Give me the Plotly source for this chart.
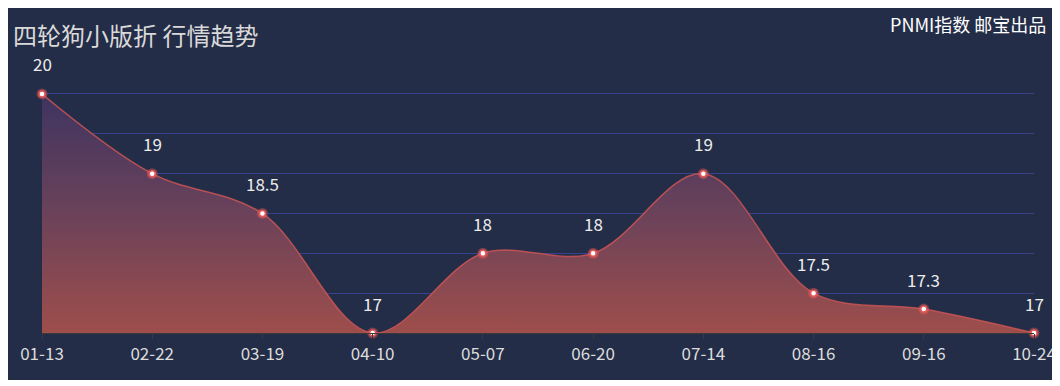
import plotly.graph_objects as go

# ---- data ----
dates = ["01-13", "02-22", "03-19", "04-10", "05-07", "06-20", "07-14", "08-16", "09-16", "10-24"]
prices = [20, 19, 18.5, 17, 18, 18, 19, 17.5, 17.3, 17]
price_labels = ["20", "19", "18.5", "17", "18", "18", "19", "17.5", "17.3", "17"]
grid_values = [17, 17.5, 18, 18.5, 19, 19.5, 20]
title_text = "四轮狗小版折 行情趋势"
brand_text = "PNMI指数 邮宝出品"

OFF = 8  # page body margin
W, H = 1060 - OFF, 386 - OFF
Y_TOP = 20.1
L, R, T, B = 42 - OFF, 26, 86 - OFF, 53
pw, ph = W - L - R, H - T - B

def px(x):  # page pixel -> paper
    return (x - OFF - L) / pw

def py(y):
    return (H - B - (y - OFF)) / ph

FONT = "Noto Sans CJK SC"
BG = "#232d47"

fig = go.Figure()

fig.add_trace(go.Scatter(
    x=dates, y=prices, mode="lines",
    line=dict(color="rgba(205,85,85,0.85)", width=1.5, shape="spline", smoothing=1.0),
    fill="tozeroy",
    fillgradient=dict(type="vertical", start=17, stop=20,
                      colorscale=[[0, "#9e4e4b"], [0.5, "#6b425a"], [1, "#3e3460"]]),
    hoverinfo="skip", showlegend=False,
))
fig.add_trace(go.Scatter(
    x=dates, y=prices, mode="markers",
    marker=dict(size=11, color="rgba(255,90,90,0.4)", line=dict(width=0)),
    cliponaxis=False, hoverinfo="skip", showlegend=False,
))
fig.add_trace(go.Scatter(
    x=dates, y=prices, mode="markers",
    marker=dict(size=6, color="#ffffff", line=dict(width=1.5, color="#e25a5a")),
    cliponaxis=False, showlegend=False,
))

for d, v, t in zip(dates, prices, price_labels):
    fig.add_annotation(x=d, y=v, text=t, showarrow=False, yshift=30,
                       font=dict(family=FONT, size=17, color="#ececec"))

fig.add_annotation(xref="paper", yref="paper", x=px(11), y=py(35), text=title_text,
                   showarrow=False, xanchor="left", yanchor="middle",
                   font=dict(family=FONT, size=24, color="#d9d9d9"))
fig.add_annotation(xref="paper", yref="paper", x=px(1048), y=py(24), text=brand_text,
                   showarrow=False, xanchor="right", yanchor="middle",
                   font=dict(family=FONT, size=18, color="#ffffff"))

fig.add_shape(type="rect", xref="paper", yref="paper", layer="below",
              x0=px(0), x1=px(1053), y0=py(380), y1=py(0),
              fillcolor=BG, line=dict(width=0))

fig.update_layout(
    width=W, height=H,
    margin=dict(l=L, r=R, t=T, b=B, autoexpand=False),
    paper_bgcolor="#ffffff", plot_bgcolor=BG,
    xaxis=dict(type="category", range=[0, len(dates) - 1], showgrid=False,
               automargin=False,
               showline=True, linecolor="#3a3a3a", linewidth=1,
               ticks="outside", ticklen=5, tickcolor="#3a3a3a",
               tickfont=dict(family=FONT, size=17, color="#dcdcdc"),
               ticklabelstandoff=1, zeroline=False),
    yaxis=dict(range=[17, Y_TOP], tickvals=grid_values, automargin=False,
               showgrid=True, gridcolor="#38418c",
               gridwidth=1, showticklabels=False, zeroline=False, showline=False),
)

fig.write_html("out.html")
